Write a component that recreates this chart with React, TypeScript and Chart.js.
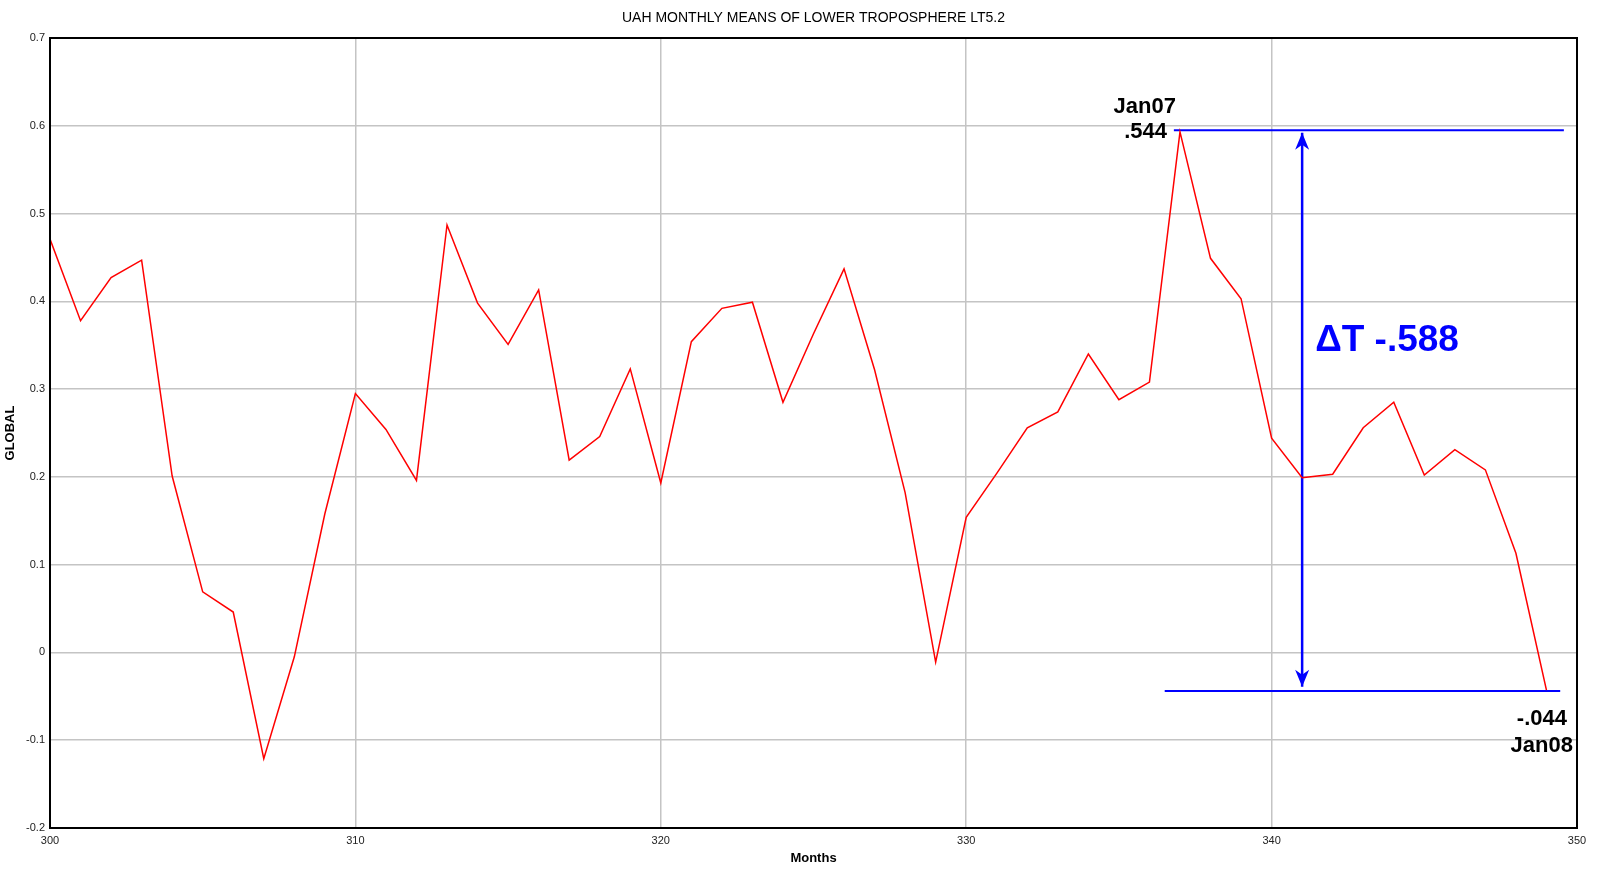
import React, { useEffect, useRef } from "react";
import { Chart, registerables } from "chart.js";

Chart.register(...registerables);

const chartTitle = "UAH MONTHLY MEANS OF LOWER TROPOSPHERE LT5.2";
const xAxisTitle = "Months";
const yAxisTitle = "GLOBAL";

const months = [
  300, 301, 302, 303, 304, 305, 306, 307, 308, 309,
  310, 311, 312, 313, 314, 315, 316, 317, 318, 319,
  320, 321, 322, 323, 324, 325, 326, 327, 328, 329,
  330, 331, 332, 333, 334, 335, 336, 337, 338, 339,
  340, 341, 342, 343, 344, 345, 346, 347, 348, 349,
];

const globalAnomaly = [
  0.471, 0.378, 0.427, 0.447, 0.201, 0.069, 0.046, -0.121, -0.005, 0.158,
  0.295, 0.254, 0.196, 0.487, 0.398, 0.351, 0.413, 0.219, 0.246, 0.323,
  0.193, 0.354, 0.392, 0.399, 0.285, 0.363, 0.437, 0.322, 0.182, -0.011,
  0.154, 0.204, 0.256, 0.274, 0.340, 0.288, 0.308, 0.593, 0.449, 0.403,
  0.244, 0.199, 0.203, 0.256, 0.285, 0.202, 0.231, 0.208, 0.113, -0.043,
];

const xTickValues = [300, 310, 320, 330, 340, 350];
const yTickValues = [-0.2, -0.1, 0, 0.1, 0.2, 0.3, 0.4, 0.5, 0.6, 0.7];

// Annotation data (in data units)
const topSpanMonths = [336.8, 349.57];
const topSpanValue = 0.595;
const bottomSpanMonths = [336.5, 349.45];
const bottomSpanValue = -0.044;
const arrowMonth = 341;
const arrowValues = [0.592, -0.039];
const peakMonth = 337;
const lowMonth = 349;
const peakLabels = ["Jan07", ".544"];
const lowLabels = ["-.044", "Jan08"];
const deltaLabel = "\u0394T -.588";
const deltaLabelValue = 0.343;

const FONT = '"Liberation Sans", Arial, Helvetica, sans-serif';

const annotationPlugin = {
  id: "annotations",
  afterDatasetsDraw(chart: any) {
    const { ctx, chartArea, scales } = chart;
    const xs = scales.x;
    const ys = scales.y;
    ctx.save();

    // frame box
    ctx.strokeStyle = "#000";
    ctx.lineWidth = 2;
    ctx.strokeRect(chartArea.left, chartArea.top, chartArea.right - chartArea.left, chartArea.bottom - chartArea.top);

    // arrowheads
    const ax = xs.getPixelForValue(arrowMonth);
    const topTip = ys.getPixelForValue(arrowValues[0]);
    const botTip = ys.getPixelForValue(arrowValues[1]);
    ctx.fillStyle = "#0000ff";
    ctx.beginPath();
    ctx.moveTo(ax, topTip);
    ctx.lineTo(ax - 7, topTip + 17);
    ctx.lineTo(ax, topTip + 12);
    ctx.lineTo(ax + 7, topTip + 17);
    ctx.closePath();
    ctx.fill();
    ctx.beginPath();
    ctx.moveTo(ax, botTip);
    ctx.lineTo(ax - 7, botTip - 17);
    ctx.lineTo(ax, botTip - 12);
    ctx.lineTo(ax + 7, botTip - 17);
    ctx.closePath();
    ctx.fill();

    // labels
    const pi = months.indexOf(peakMonth);
    const li = months.indexOf(lowMonth);
    const px = xs.getPixelForValue(peakMonth);
    const py = ys.getPixelForValue(globalAnomaly[pi]);
    const lx = xs.getPixelForValue(lowMonth);
    const ly = ys.getPixelForValue(globalAnomaly[li]);

    ctx.fillStyle = "#000";
    ctx.font = `bold 22px ${FONT}`;
    ctx.textAlign = "right";
    ctx.textBaseline = "alphabetic";
    ctx.fillText(peakLabels[0], px - 4, py - 19);
    ctx.fillText(peakLabels[1], px - 13, py + 6);
    ctx.fillText(lowLabels[0], lx + 20.5, ly + 35);
    ctx.fillText(lowLabels[1], lx + 26.5, ly + 62);

    ctx.fillStyle = "#0000ff";
    ctx.font = `bold 37px ${FONT}`;
    ctx.textAlign = "left";
    ctx.fillText(deltaLabel, ax + 13, ys.getPixelForValue(deltaLabelValue));

    // chart title
    ctx.fillStyle = "#000";
    ctx.font = `14px ${FONT}`;
    ctx.textAlign = "center";
    ctx.textBaseline = "middle";
    ctx.fillText(chartTitle, (chartArea.left + chartArea.right) / 2, 18);

    ctx.restore();
  },
};

export default function App() {
  const canvasRef = useRef<HTMLCanvasElement | null>(null);

  useEffect(() => {
    if (!canvasRef.current) return;
    Chart.defaults.font.family = FONT;
    const chart = new Chart(canvasRef.current, {
      type: "line",
      data: {
        datasets: [
          {
            label: "GLOBAL",
            data: months.map((m, i) => ({ x: m, y: globalAnomaly[i] })),
            borderColor: "#ff0000",
            borderWidth: 1.5,
            pointRadius: 0,
            tension: 0,
            fill: false,
          },
          {
            label: "top",
            data: topSpanMonths.map((m) => ({ x: m, y: topSpanValue })),
            borderColor: "#0000ff",
            borderWidth: 2,
            pointRadius: 0,
          },
          {
            label: "bottom",
            data: bottomSpanMonths.map((m) => ({ x: m, y: bottomSpanValue })),
            borderColor: "#0000ff",
            borderWidth: 2,
            pointRadius: 0,
          },
          {
            label: "arrow",
            data: arrowValues.map((v) => ({ x: arrowMonth, y: v })),
            borderColor: "#0000ff",
            borderWidth: 2.5,
            pointRadius: 0,
          },
        ],
      },
      options: {
        animation: false,
        responsive: false,
        maintainAspectRatio: false,
        layout: { padding: { top: 38, right: 23, bottom: 0, left: 0 } },
        plugins: {
          legend: { display: false },
          tooltip: { enabled: false },
          title: { display: false },
        },
        scales: {
          x: {
            type: "linear",
            min: 300,
            max: 350,
            afterBuildTicks: (scale: any) => {
              scale.ticks = xTickValues.map((v) => ({ value: v }));
            },
            afterFit: (scale: any) => {
              scale.height = 43;
            },
            ticks: {
              font: { size: 11 },
              color: "#222",
              padding: 6,
              maxRotation: 0,
              autoSkip: false,
              callback: (v: any) => String(v),
            },
            grid: { color: "#c4c4c4", lineWidth: 1.5, drawTicks: false },
            border: { display: true, color: "#000", width: 2 },
            title: {
              display: true,
              text: xAxisTitle,
              font: { size: 13, weight: "bold" },
              color: "#000",
              padding: { top: 0, bottom: 5 },
            },
          },
          y: {
            type: "linear",
            min: -0.2,
            max: 0.7,
            afterBuildTicks: (scale: any) => {
              scale.ticks = yTickValues.map((v) => ({ value: v }));
            },
            afterFit: (scale: any) => {
              scale.width = 50;
            },
            ticks: {
              font: { size: 11 },
              color: "#222",
              padding: 5,
              autoSkip: false,
              callback: (v: any) => String(Number(Number(v).toFixed(1))),
            },
            grid: { color: "#c4c4c4", lineWidth: 1.5, drawTicks: false },
            border: { display: true, color: "#000", width: 2 },
            title: {
              display: true,
              text: yAxisTitle,
              font: { size: 13, weight: "bold" },
              color: "#000",
              padding: { top: 3, bottom: 0 },
            },
          },
        },
      },
      plugins: [annotationPlugin],
    });
    return () => chart.destroy();
  }, []);

  return (
    <div style={{ position: "absolute", left: 0, top: 0, width: 1600, height: 871, background: "#fff" }}>
      <canvas ref={canvasRef} width={1600} height={871} style={{ display: "block" }} />
    </div>
  );
}
